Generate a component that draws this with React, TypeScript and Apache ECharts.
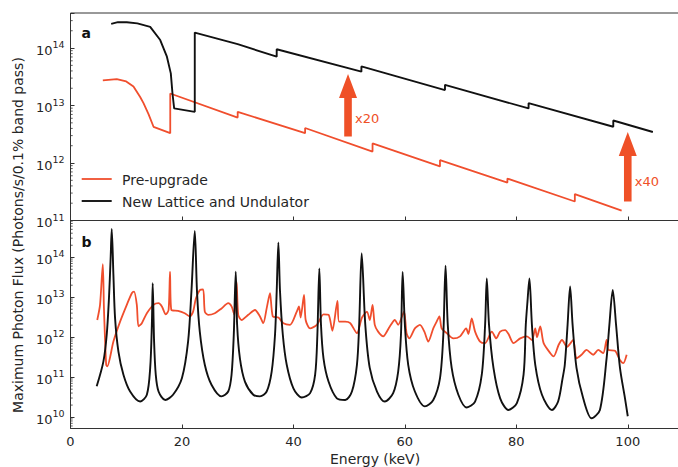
import React, { useEffect, useRef } from "react";
import * as echarts from "echarts";

// ---------- data (energy keV, photon flux) ----------
const topPre: [number, number][] = [
  [5.8, 2.75e13], [8.3, 2.88e13], [10.0, 2.63e13], [11.3, 2.14e13], [12.5, 1.41e13],
  [13.1, 1.1e13], [14.0, 7.08e12], [14.9, 4.27e12], [17.9, 3.31e12], [17.9, 1.62e13],
  [30.0, 6.17e12], [30.0, 7.76e12], [42.1, 3.31e12], [42.1, 4.07e12], [54.2, 1.58e12],
  [54.2, 2.19e12], [66.3, 8.71e11], [66.3, 1.12e12], [78.4, 4.57e11], [78.4, 5.37e11],
  [90.5, 2.14e11], [90.5, 2.88e11], [98.9, 1.48e11],
];

const topNew: [number, number][] = [
  [7.3, 2.63e14], [8.5, 2.82e14], [10.1, 2.82e14], [12.0, 2.69e14], [14.3, 2.34e14],
  [16.1, 1.38e14], [17.3, 7.08e13], [18.0, 3.63e13], [18.3, 1.62e13], [18.6, 8.91e12],
  [22.3, 7.76e12], [22.3, 1.86e14], [30.0, 1.17e14], [37.0, 7.08e13], [37.0, 9.55e13],
  [52.2, 3.89e13], [52.2, 4.79e13], [67.2, 1.86e13], [67.2, 2.29e13], [82.2, 8.91e12],
  [82.2, 1.1e13], [97.4, 4.27e12], [97.4, 5.5e12], [104.5, 3.47e12],
];

const bottomPre: [number, number][] = [
  [4.8, 2.69e12], [5.3, 6.46e12], [5.8, 6.76e13], [6.0, 5.37e12], [6.4, 2.04e11],
  [6.6, 1.86e11], [7.7, 7.76e11], [8.9, 2.45e12], [10.1, 6.46e12], [11.0, 1.26e13],
  [11.4, 1.38e13], [11.9, 6.46e12], [12.2, 1.86e12], [12.8, 2.24e12], [13.7, 3.98e12],
  [14.9, 6.46e12], [15.8, 7.08e12], [16.4, 5.89e12], [17.1, 3.72e12], [17.6, 4.79e12],
  [17.86, 4.37e13], [18.1, 4.79e12], [19.3, 4.57e12], [20.5, 3.98e12], [21.4, 3.31e12],
  [22.0, 4.37e12], [22.5, 9.33e12], [23.2, 1.51e13], [23.8, 1.58e13], [24.1, 4.37e12],
  [24.7, 3.63e12], [25.9, 3.98e12], [27.1, 5.25e12], [28.3, 7.08e12], [28.9, 5.89e12],
  [29.4, 3.63e12], [29.8, 2.45e13], [30.1, 3.63e12], [30.7, 2.69e12], [31.9, 3.63e12],
  [33.1, 4.79e12], [34.0, 3.31e12], [34.6, 2.24e12], [35.2, 5.25e12], [35.8, 1.26e13],
  [36.3, 3.31e12], [37.3, 3.09e12], [38.2, 2.24e12], [39.4, 2.04e12], [40.6, 4.37e12],
  [41.0, 5.89e12], [41.3, 3.09e12], [41.9, 1.15e13], [42.2, 2.69e12], [43.0, 1.66e12],
  [44.2, 2.04e12], [45.4, 3.72e12], [46.3, 3.63e12], [47.0, 1.45e12], [47.9, 8.13e12],
  [48.2, 2.45e12], [49.3, 2.45e12], [50.2, 2.24e12], [51.4, 1.26e12], [52.3, 3.09e12],
  [53.2, 4.37e12], [53.7, 2.69e12], [54.2, 6.46e12], [54.6, 2.04e12], [55.2, 1.38e12],
  [56.1, 1.05e12], [57.3, 1.86e12], [58.2, 2.69e12], [58.8, 2.04e12], [59.85, 4.37e12],
  [60.3, 1.26e12], [60.8, 9.33e11], [61.8, 1.66e12], [62.7, 2.04e12], [63.5, 1.38e12],
  [64.2, 7.76e11], [65.1, 1.66e12], [65.7, 2.45e12], [66.2, 3.31e12], [66.6, 1.66e12],
  [67.5, 1.26e12], [68.7, 9.33e11], [69.9, 1.05e12], [71.0, 1.66e12], [71.4, 1.2e12],
  [72.0, 2.95e12], [72.6, 1.38e12], [73.5, 7.76e11], [74.4, 7.08e11], [75.6, 1.38e12],
  [76.4, 9.33e11], [77.1, 1.38e12], [78.0, 1.51e12], [78.6, 1.2e12], [79.5, 7.08e11],
  [80.7, 9.33e11], [81.9, 1.05e12], [82.8, 8.51e11], [83.4, 1.66e12], [83.7, 1.0e12],
  [84.3, 1.86e12], [84.9, 7.08e11], [86.1, 3.98e11], [86.7, 3.31e11], [87.6, 6.46e11],
  [88.2, 8.51e11], [89.1, 5.75e11], [90.2, 8.51e11], [90.8, 2.95e11], [91.7, 3.63e11],
  [92.6, 4.79e11], [93.8, 3.63e11], [94.7, 4.79e11], [95.6, 3.98e11], [96.2, 8.51e11],
  [96.5, 4.79e11], [97.7, 4.57e11], [98.6, 2.69e11], [99.2, 2.24e11], [99.8, 3.63e11],
];

const bottomNew: [number, number][] = [
  [4.7, 5.89e10], [5.9, 2.45e11], [6.5, 1.15e12], [6.9, 9.33e12], [7.2, 9.33e13],
  [7.4, 5.13e14], [7.7, 3.63e13], [8.0, 2.95e12], [8.6, 4.37e11], [9.5, 1.15e11],
  [10.7, 4.37e10], [12.5, 2.45e10], [13.7, 3.63e10], [14.3, 1.7e11], [14.6, 2.04e12],
  [14.75, 2.24e13], [15.0, 7.76e11], [15.3, 1.15e11], [15.8, 4.37e10], [17.0, 2.69e10],
  [18.4, 3.63e10], [20.0, 9.55e10], [21.1, 7.76e11], [21.7, 1.38e13], [22.3, 4.57e14],
  [22.7, 1.38e13], [23.2, 1.38e12], [24.1, 2.04e11], [25.3, 6.46e10], [27.1, 3.31e10],
  [28.3, 4.37e10], [28.9, 1.15e11], [29.3, 1.15e12], [29.65, 4.37e13], [29.9, 2.04e12],
  [30.4, 2.95e11], [31.3, 7.76e10], [32.8, 3.63e10], [34.0, 3.31e10], [35.2, 4.37e10],
  [36.1, 1.38e11], [36.7, 1.15e12], [37.0, 1.38e13], [37.3, 2.34e14], [37.6, 1.38e13],
  [38.1, 1.15e12], [38.8, 2.04e11], [40.0, 5.25e10], [41.5, 3.09e10], [43.0, 3.98e10],
  [43.9, 1.15e11], [44.3, 1.15e12], [44.65, 5.25e13], [44.95, 2.04e12], [45.4, 2.95e11],
  [46.3, 7.76e10], [47.8, 2.95e10], [49.3, 2.69e10], [50.5, 4.37e10], [51.4, 2.04e11],
  [51.8, 2.04e12], [52.25, 1.26e14], [52.9, 2.04e12], [53.7, 1.7e11], [55.0, 4.37e10],
  [56.4, 2.45e10], [57.9, 3.98e10], [58.8, 1.38e11], [59.3, 1.15e12], [59.6, 4.27e13],
  [60.0, 2.04e12], [60.6, 2.04e11], [61.8, 4.37e10], [63.6, 1.86e10], [65.1, 2.69e10],
  [66.3, 9.33e10], [66.9, 1.15e12], [67.3, 6.17e13], [67.7, 2.04e12], [68.4, 1.7e11],
  [69.6, 3.63e10], [71.1, 1.74e10], [72.6, 2.45e10], [73.8, 1.15e11], [74.4, 2.04e12],
  [74.7, 2.95e13], [75.1, 2.04e12], [75.9, 1.7e11], [77.1, 2.95e10], [78.6, 1.51e10],
  [80.1, 2.24e10], [81.3, 1.15e11], [81.7, 2.04e12], [82.0, 7.76e12], [82.35, 2.95e13],
  [82.8, 2.04e12], [83.4, 2.04e11], [84.6, 3.63e10], [86.4, 1.51e10], [87.5, 2.45e10],
  [88.3, 9.33e10], [88.7, 2.04e11], [89.2, 2.04e12], [89.65, 1.86e13], [90.1, 2.04e12],
  [90.8, 1.7e11], [92.0, 2.95e10], [93.5, 9.33e9], [95.0, 1.51e10], [96.2, 2.95e11],
  [96.7, 2.04e12], [97.3, 1.51e13], [97.9, 2.04e12], [98.6, 1.7e11], [99.5, 2.95e10],
  [100.0, 1.05e10],
];

// improvement arrows in panel a: energy, base flux, tip flux, label flux, label
const arrowEnergy = [49.8, 100.0];
const arrowBase = [2.88e12, 2.14e11];
const arrowTip = [3.55e13, 3.47e12];
const arrowLabelAt = [6.03e12, 4.73e11];
const arrowLabels = ["x20", "x40"];

const xTicks = [0, 20, 40, 60, 80, 100];
const seriesNames = ["Pre-upgrade", "New Lattice and Undulator"];

const RED = "#f04e2d";
const ARROW = "#ef5027";
const BLACK = "#111111";
const AXIS = "#333333";
const TEXT = "#262626";
const FONT = "DejaVu Sans";

const TOP_MIN = 1e11;
const TOP_MAX = Math.pow(10, 14.61);
const BOT_MIN = Math.pow(10, 9.715);
const BOT_MAX = Math.pow(10, 14.92);

function minorTicks(lo: number, hi: number): number[] {
  const out: number[] = [];
  for (let d = Math.floor(Math.log10(lo)); d <= Math.ceil(Math.log10(hi)); d++) {
    for (let m = 2; m <= 9; m++) {
      const v = m * Math.pow(10, d);
      if (v > lo && v < hi) out.push(v);
    }
  }
  return out;
}

const yLabel = {
  color: TEXT,
  margin: 6,
  formatter: (v: number) => {
    const e = Math.log10(v);
    const r = Math.round(e);
    if (Math.abs(e - r) > 1e-6) return "";
    return `{b|10}{s|${r}}`;
  },
  rich: {
    b: { fontSize: 13, fontFamily: FONT, color: TEXT, verticalAlign: "bottom" },
    s: { fontSize: 9.5, fontFamily: FONT, color: TEXT, verticalAlign: "bottom", padding: [0, 0, 7, 0] },
  },
};

export default function App() {
  const ref = useRef<HTMLDivElement>(null);
  useEffect(() => {
    if (!ref.current) return;
    const chart = echarts.init(ref.current, undefined, { renderer: "svg" });
    const tickRender = (params: any, api: any) => {
      const p = api.coord([api.value(0), api.value(1)]);
      return {
        type: "line",
        shape: { x1: p[0], y1: p[1], x2: p[0] + 2.2, y2: p[1] },
        style: { stroke: AXIS, lineWidth: 0.8 },
      };
    };
    const arrowData = arrowEnergy.map((e, i) => [e, arrowBase[i], arrowTip[i], arrowLabelAt[i]]);
    chart.setOption({
      animation: false,
      grid: [
        { left: 70.5, top: 13, width: 613, height: 207.5, show: true, borderColor: AXIS, borderWidth: 1, backgroundColor: "transparent" },
        { left: 70.5, top: 220.5, width: 613, height: 208, show: true, borderColor: AXIS, borderWidth: 1, backgroundColor: "transparent" },
      ],
      xAxis: [
        {
          type: "value", gridIndex: 0, min: 0, max: 110, interval: 20,
          axisLine: { show: false }, splitLine: { show: false },
          axisTick: { inside: true, length: 4, lineStyle: { color: AXIS } },
          axisLabel: { show: false },
        },
        {
          type: "value", gridIndex: 1, min: 0, max: 110, interval: 20,
          axisLine: { show: false }, splitLine: { show: false },
          axisTick: { inside: true, length: 4, lineStyle: { color: AXIS } },
          axisLabel: {
            color: TEXT, fontSize: 13, fontFamily: FONT, margin: 6, showMaxLabel: false,
            formatter: (v: number) => (xTicks.includes(v) ? String(v) : ""),
          },
        },
      ],
      yAxis: [
        {
          type: "log", logBase: 10, gridIndex: 0, min: TOP_MIN, max: TOP_MAX,
          axisLine: { show: false }, splitLine: { show: false },
          axisTick: { inside: true, length: 4, lineStyle: { color: AXIS } },
          axisLabel: yLabel,
        },
        {
          type: "log", logBase: 10, gridIndex: 1, min: BOT_MIN, max: BOT_MAX,
          axisLine: { show: false }, splitLine: { show: false },
          axisTick: { inside: true, length: 4, lineStyle: { color: AXIS } },
          axisLabel: yLabel,
        },
      ],
      series: [
        {
          name: seriesNames[0], type: "line", xAxisIndex: 0, yAxisIndex: 0, data: topPre,
          showSymbol: false, symbol: "none", lineStyle: { color: RED, width: 1.8 }, z: 3,
        },
        {
          name: seriesNames[1], type: "line", xAxisIndex: 0, yAxisIndex: 0, data: topNew,
          showSymbol: false, symbol: "none", lineStyle: { color: BLACK, width: 1.9 }, z: 4,
        },
        {
          name: seriesNames[0], type: "line", xAxisIndex: 1, yAxisIndex: 1, data: bottomPre,
          showSymbol: false, symbol: "none", smooth: 0.25, lineStyle: { color: RED, width: 1.8 }, z: 3,
        },
        {
          name: seriesNames[1], type: "line", xAxisIndex: 1, yAxisIndex: 1, data: bottomNew,
          showSymbol: false, symbol: "none", smooth: 0.3, lineStyle: { color: BLACK, width: 1.9 }, z: 4,
        },
        {
          type: "custom", xAxisIndex: 0, yAxisIndex: 0, silent: true, z: 5,
          data: arrowData,
          renderItem: (params: any, api: any) => {
            const b = api.coord([api.value(0), api.value(1)]);
            const t = api.coord([api.value(0), api.value(2)]);
            const l = api.coord([api.value(0), api.value(3)]);
            const x = b[0];
            const headLen = 24, headHalf = 9, shaft = 3.8;
            const hb = t[1] + headLen;
            return {
              type: "group",
              children: [
                {
                  type: "polygon",
                  shape: {
                    points: [
                      [x - shaft, b[1]], [x - shaft, hb], [x - headHalf, hb], [x, t[1]],
                      [x + headHalf, hb], [x + shaft, hb], [x + shaft, b[1]],
                    ],
                  },
                  style: { fill: ARROW },
                },
                {
                  type: "text",
                  x: x + 7,
                  y: l[1],
                  style: {
                    text: arrowLabels[params.dataIndex], fill: ARROW, fontSize: 13,
                    fontFamily: FONT, verticalAlign: "middle", align: "left",
                  },
                },
              ],
            };
          },
        },
        {
          type: "custom", xAxisIndex: 0, yAxisIndex: 0, silent: true,
          data: minorTicks(TOP_MIN, TOP_MAX).map((v) => [0, v]),
          renderItem: tickRender,
        },
        {
          type: "custom", xAxisIndex: 1, yAxisIndex: 1, silent: true,
          data: minorTicks(BOT_MIN, BOT_MAX).map((v) => [0, v]),
          renderItem: tickRender,
        },
      ],
      graphic: [
        { type: "line", shape: { x1: 81.7, y1: 179, x2: 111.7, y2: 179 }, style: { stroke: RED, lineWidth: 1.8 } },
        { type: "text", x: 122, y: 179.5, style: { text: seriesNames[0], fill: TEXT, fontSize: 14, fontFamily: FONT, verticalAlign: "middle" } },
        { type: "line", shape: { x1: 81.7, y1: 201, x2: 111.7, y2: 201 }, style: { stroke: BLACK, lineWidth: 1.9 } },
        { type: "text", x: 122, y: 201.5, style: { text: seriesNames[1], fill: TEXT, fontSize: 14, fontFamily: FONT, verticalAlign: "middle" } },
        { type: "text", x: 81.5, y: 33, style: { text: "a", fill: "#111", fontSize: 14, fontWeight: "bold", fontFamily: FONT, verticalAlign: "middle" } },
        { type: "text", x: 81.5, y: 242, style: { text: "b", fill: "#111", fontSize: 14, fontWeight: "bold", fontFamily: FONT, verticalAlign: "middle" } },
        {
          type: "text", x: 18, y: 235, rotation: Math.PI / 2,
          style: { text: "Maximum Photon Flux (Photons/s/0.1% band pass)", fill: TEXT, fontSize: 14, fontFamily: FONT, align: "center", verticalAlign: "middle" },
        },
        {
          type: "text", x: 375, y: 459,
          style: { text: "Energy (keV)", fill: TEXT, fontSize: 14, fontFamily: FONT, align: "center", verticalAlign: "middle" },
        },
      ],
    });
    return () => chart.dispose();
  }, []);
  return (
    <div
      style={{ position: "absolute", left: 0, top: 0, width: 678, height: 467, overflow: "hidden", background: "#fff" }}
    >
      <div ref={ref} style={{ width: 700, height: 467 }} />
    </div>
  );
}
